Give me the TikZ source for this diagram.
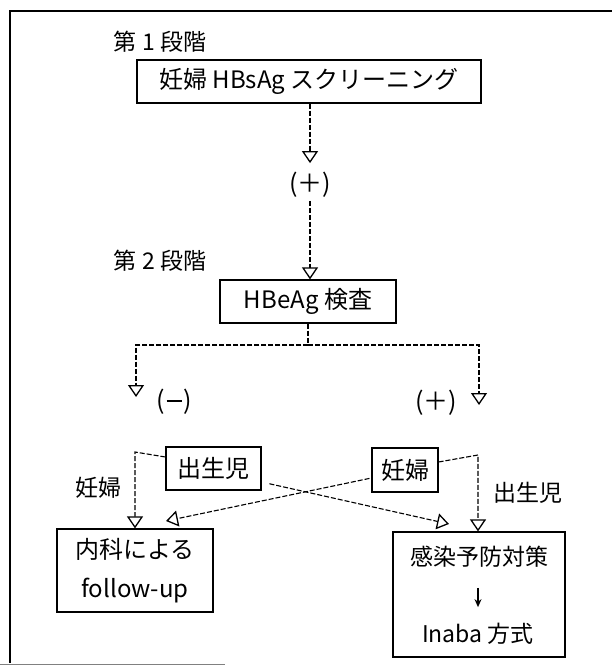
\documentclass[tikz,border=0pt]{standalone}
\usepackage{fontspec}
\setmainfont{Noto Sans CJK JP}
\usetikzlibrary{arrows.meta,calc}
\begin{document}
\begin{tikzpicture}[x=1pt,y=-1pt,
  box/.style={draw, line width=1.2pt, inner sep=0pt, align=center, font=\fontsize{24}{30}\selectfont},
  lbl/.style={inner sep=0pt, font=\fontsize{23}{28}\selectfont},
  par/.style={inner sep=0pt, font=\fontsize{25}{30}\selectfont},
  conn/.style={line width=1.1pt, dash pattern=on 5pt off 2pt},
  tip/.style={-{Triangle[open, length=12pt, width=16pt, line width=1.3pt]}},
  solidarrow/.style={line width=1.3pt, -{Stealth[length=8pt,width=7pt]}},
]
\useasboundingbox (0,0) rectangle (612,666);
% frame
\draw[line width=1.3pt] (612,11) -- (10,11) -- (10,663);
\draw[line width=1pt, gray] (0,664) -- (225,664);

% stage 1
\node[lbl] (s1) at (160,42) {第 1 段階};
\node[box, minimum width=344, minimum height=43] (b1) at (309,81.5) {妊婦 HBsAg スクリーニング};
\node[par] (p1) at (310,185) {(＋)};

% stage 2
\node[lbl] (s2) at (160,261) {第 2 段階};
\node[box, minimum width=176, minimum height=43] (b2) at (308,301.5) {HBeAg 検査};
\coordinate (jn) at (308,345);
\coordinate (tl) at (136,397);
\coordinate (tr) at (479,405);
\node[par] (m) at (174,402) {(\hspace{2pt}\raisebox{7.5pt}{\rule{15pt}{1.8pt}}\hspace{2pt})};
\node[par] (p2) at (436,403) {(＋)};

% lower part
\node[box, minimum width=95, minimum height=43] (c1) at (213.5,468.5) {出生児};
\node[lbl] (w1) at (98,488) {妊婦};
\node[box, minimum width=66, minimum height=44] (w2) at (405,470) {妊婦};
\node[lbl] (c2) at (528,493) {出生児};
\node[box, minimum width=156, minimum height=83, font=\fontsize{24}{39}\selectfont] (f) at (135,570.5) {内科による\\follow-up};
\node[box, minimum width=172, minimum height=125] (k) at (479,594.5) {};
\node[lbl] (k1) at (479,557) {感染予防対策};
\node[lbl] (k2) at (478,634) {Inaba 方式};

\coordinate (a1) at (135,452);
\coordinate (a2) at (478,455);
\coordinate (ta) at (449,524);
\coordinate (tb) at (166,521);

% connectors
\draw[conn,tip] (b1.south -| p1) -- ([yshift=9pt]p1.north);
\draw[conn,tip] ([yshift=-3pt]p1.south) -- (b2.north -| p1);
\draw[conn,tip] (b2.south) -- (jn) -| (tl);
\draw[conn,tip] (jn) -| (tr);
\draw[conn,tip] ([yshift=11.5pt]c1.west) -- (a1) -- (f.north);
\draw[conn,tip,shorten <=8pt] ([yshift=-13.5pt]c1.east) -- (ta);
\draw[conn,tip,shorten <=2pt] ([yshift=-8pt]w2.west) -- (tb);
\draw[conn,tip] ([yshift=8pt]w2.east) -- (a2) -- (a2 |- k.north);
\draw[solidarrow, shorten <=20pt, shorten >=16pt] (k1.south -| k2) -- (k2.north);
\end{tikzpicture}
\end{document}
